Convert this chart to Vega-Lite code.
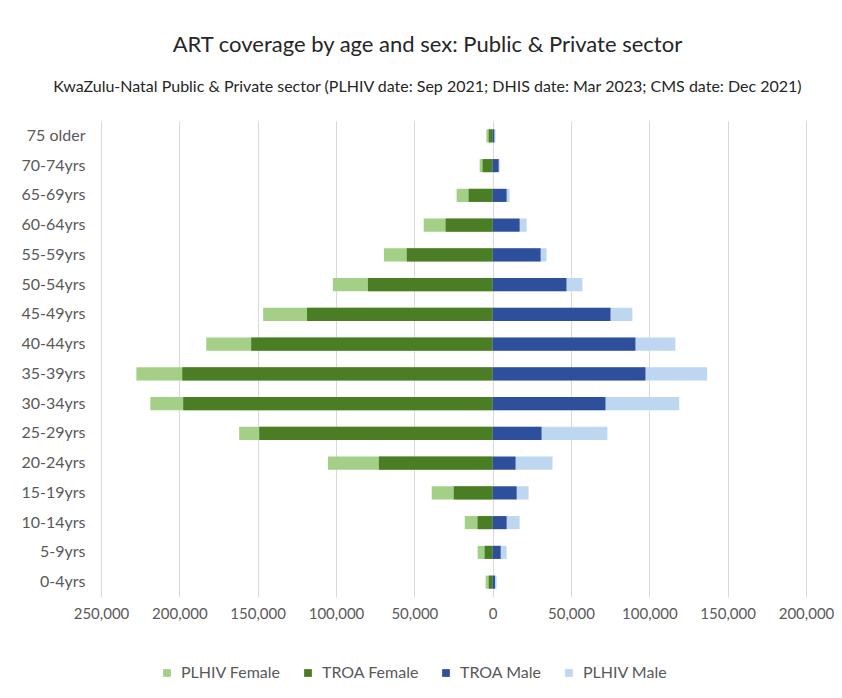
{
  "$schema": "https://vega.github.io/schema/vega-lite/v6.json",
  "width": 705,
  "height": 476,
  "padding": {"left": 20, "top": 34, "right": 8, "bottom": 8},
  "background": "white",
  "title": {
    "text": "ART coverage by age and sex: Public & Private sector",
    "subtitle": "KwaZulu-Natal Public & Private sector (PLHIV date: Sep 2021; DHIS date: Mar 2023; CMS date: Dec 2021)",
    "fontSize": 22,
    "fontWeight": "normal",
    "font": "Lato",
    "color": "#262626",
    "subtitleFont": "Lato",
    "subtitleFontSize": 16,
    "subtitleColor": "#262626",
    "subtitlePadding": 22,
    "offset": 25,
    "anchor": "middle",
    "frame": "bounds"
  },
  "data": {
    "values": [
      {"age": "75 older", "kind": "PLHIV", "series": "PLHIV Female", "value": -4000},
      {"age": "70-74yrs", "kind": "PLHIV", "series": "PLHIV Female", "value": -8300},
      {"age": "65-69yrs", "kind": "PLHIV", "series": "PLHIV Female", "value": -23000},
      {"age": "60-64yrs", "kind": "PLHIV", "series": "PLHIV Female", "value": -44000},
      {"age": "55-59yrs", "kind": "PLHIV", "series": "PLHIV Female", "value": -69400},
      {"age": "50-54yrs", "kind": "PLHIV", "series": "PLHIV Female", "value": -102000},
      {"age": "45-49yrs", "kind": "PLHIV", "series": "PLHIV Female", "value": -146500},
      {"age": "40-44yrs", "kind": "PLHIV", "series": "PLHIV Female", "value": -182800},
      {"age": "35-39yrs", "kind": "PLHIV", "series": "PLHIV Female", "value": -227400},
      {"age": "30-34yrs", "kind": "PLHIV", "series": "PLHIV Female", "value": -218500},
      {"age": "25-29yrs", "kind": "PLHIV", "series": "PLHIV Female", "value": -161800},
      {"age": "20-24yrs", "kind": "PLHIV", "series": "PLHIV Female", "value": -105100},
      {"age": "15-19yrs", "kind": "PLHIV", "series": "PLHIV Female", "value": -38900},
      {"age": "10-14yrs", "kind": "PLHIV", "series": "PLHIV Female", "value": -17800},
      {"age": "5-9yrs", "kind": "PLHIV", "series": "PLHIV Female", "value": -9600},
      {"age": "0-4yrs", "kind": "PLHIV", "series": "PLHIV Female", "value": -4500},

      {"age": "75 older", "kind": "PLHIV", "series": "PLHIV Male", "value": 1800},
      {"age": "70-74yrs", "kind": "PLHIV", "series": "PLHIV Male", "value": 4500},
      {"age": "65-69yrs", "kind": "PLHIV", "series": "PLHIV Male", "value": 10800},
      {"age": "60-64yrs", "kind": "PLHIV", "series": "PLHIV Male", "value": 21700},
      {"age": "55-59yrs", "kind": "PLHIV", "series": "PLHIV Male", "value": 34400},
      {"age": "50-54yrs", "kind": "PLHIV", "series": "PLHIV Male", "value": 57300},
      {"age": "45-49yrs", "kind": "PLHIV", "series": "PLHIV Male", "value": 89200},
      {"age": "40-44yrs", "kind": "PLHIV", "series": "PLHIV Male", "value": 116600},
      {"age": "35-39yrs", "kind": "PLHIV", "series": "PLHIV Male", "value": 136900},
      {"age": "30-34yrs", "kind": "PLHIV", "series": "PLHIV Male", "value": 119100},
      {"age": "25-29yrs", "kind": "PLHIV", "series": "PLHIV Male", "value": 73200},
      {"age": "20-24yrs", "kind": "PLHIV", "series": "PLHIV Male", "value": 38200},
      {"age": "15-19yrs", "kind": "PLHIV", "series": "PLHIV Male", "value": 22900},
      {"age": "10-14yrs", "kind": "PLHIV", "series": "PLHIV Male", "value": 17200},
      {"age": "5-9yrs", "kind": "PLHIV", "series": "PLHIV Male", "value": 8900},
      {"age": "0-4yrs", "kind": "PLHIV", "series": "PLHIV Male", "value": 2500},

      {"age": "75 older", "kind": "TROA", "series": "TROA Female", "value": -2500},
      {"age": "70-74yrs", "kind": "TROA", "series": "TROA Female", "value": -6400},
      {"age": "65-69yrs", "kind": "TROA", "series": "TROA Female", "value": -15300},
      {"age": "60-64yrs", "kind": "TROA", "series": "TROA Female", "value": -30000},
      {"age": "55-59yrs", "kind": "TROA", "series": "TROA Female", "value": -54800},
      {"age": "50-54yrs", "kind": "TROA", "series": "TROA Female", "value": -79600},
      {"age": "45-49yrs", "kind": "TROA", "series": "TROA Female", "value": -118500},
      {"age": "40-44yrs", "kind": "TROA", "series": "TROA Female", "value": -154100},
      {"age": "35-39yrs", "kind": "TROA", "series": "TROA Female", "value": -198100},
      {"age": "30-34yrs", "kind": "TROA", "series": "TROA Female", "value": -197500},
      {"age": "25-29yrs", "kind": "TROA", "series": "TROA Female", "value": -149000},
      {"age": "20-24yrs", "kind": "TROA", "series": "TROA Female", "value": -72600},
      {"age": "15-19yrs", "kind": "TROA", "series": "TROA Female", "value": -24800},
      {"age": "10-14yrs", "kind": "TROA", "series": "TROA Female", "value": -9600},
      {"age": "5-9yrs", "kind": "TROA", "series": "TROA Female", "value": -5100},
      {"age": "0-4yrs", "kind": "TROA", "series": "TROA Female", "value": -2500},

      {"age": "75 older", "kind": "TROA", "series": "TROA Male", "value": 1000},
      {"age": "70-74yrs", "kind": "TROA", "series": "TROA Male", "value": 3800},
      {"age": "65-69yrs", "kind": "TROA", "series": "TROA Male", "value": 8900},
      {"age": "60-64yrs", "kind": "TROA", "series": "TROA Male", "value": 17200},
      {"age": "55-59yrs", "kind": "TROA", "series": "TROA Male", "value": 30600},
      {"age": "50-54yrs", "kind": "TROA", "series": "TROA Male", "value": 47100},
      {"age": "45-49yrs", "kind": "TROA", "series": "TROA Male", "value": 75200},
      {"age": "40-44yrs", "kind": "TROA", "series": "TROA Male", "value": 91100},
      {"age": "35-39yrs", "kind": "TROA", "series": "TROA Male", "value": 97500},
      {"age": "30-34yrs", "kind": "TROA", "series": "TROA Male", "value": 72000},
      {"age": "25-29yrs", "kind": "TROA", "series": "TROA Male", "value": 31200},
      {"age": "20-24yrs", "kind": "TROA", "series": "TROA Male", "value": 14600},
      {"age": "15-19yrs", "kind": "TROA", "series": "TROA Male", "value": 15300},
      {"age": "10-14yrs", "kind": "TROA", "series": "TROA Male", "value": 8900},
      {"age": "5-9yrs", "kind": "TROA", "series": "TROA Male", "value": 5100},
      {"age": "0-4yrs", "kind": "TROA", "series": "TROA Male", "value": 1500}
    ]
  },
  "encoding": {
    "y": {
      "field": "age",
      "type": "nominal",
      "sort": ["75 older", "70-74yrs", "65-69yrs", "60-64yrs", "55-59yrs", "50-54yrs", "45-49yrs", "40-44yrs", "35-39yrs", "30-34yrs", "25-29yrs", "20-24yrs", "15-19yrs", "10-14yrs", "5-9yrs", "0-4yrs"],
      "scale": {"paddingInner": 0.56, "paddingOuter": 0.28},
      "axis": {
        "title": null,
        "ticks": false,
        "domain": false,
        "labelFont": "Lato",
        "labelFontSize": 16,
        "labelColor": "#595959",
        "labelPadding": 16
      }
    },
    "x": {
      "field": "value",
      "type": "quantitative",
      "stack": null,
      "scale": {"domain": [-250000, 200000], "nice": false, "zero": true},
      "axis": {
        "title": null,
        "values": [-250000, -200000, -150000, -100000, -50000, 0, 50000, 100000, 150000, 200000],
        "labelExpr": "format(abs(datum.value), ',')",
        "labelOverlap": false,
        "labelFlush": false,
        "ticks": false,
        "domain": false,
        "grid": true,
        "gridColor": "#d9d9d9",
        "labelFont": "Lato",
        "labelFontSize": 15,
        "labelColor": "#595959",
        "labelPadding": 9
      }
    },
    "color": {
      "field": "series",
      "type": "nominal",
      "scale": {
        "domain": ["PLHIV Female", "TROA Female", "TROA Male", "PLHIV Male"],
        "range": ["#a3cf86", "#4b7d25", "#2e4f9c", "#bdd7f0"]
      },
      "legend": {
        "title": null,
        "orient": "none",
        "direction": "horizontal",
        "legendX": 58,
        "legendY": 544,
        "symbolType": "square",
        "symbolSize": 60,
        "symbolStrokeWidth": 0,
        "labelFont": "Lato",
        "labelFontSize": 16,
        "labelColor": "#595959",
        "labelOffset": 6,
        "columnPadding": 19
      }
    }
  },
  "layer": [
    {"transform": [{"filter": "datum.kind === 'PLHIV'"}], "mark": {"type": "bar"}},
    {"transform": [{"filter": "datum.kind === 'TROA'"}], "mark": {"type": "bar"}}
  ],
  "config": {
    "view": {"stroke": null}
  }
}
